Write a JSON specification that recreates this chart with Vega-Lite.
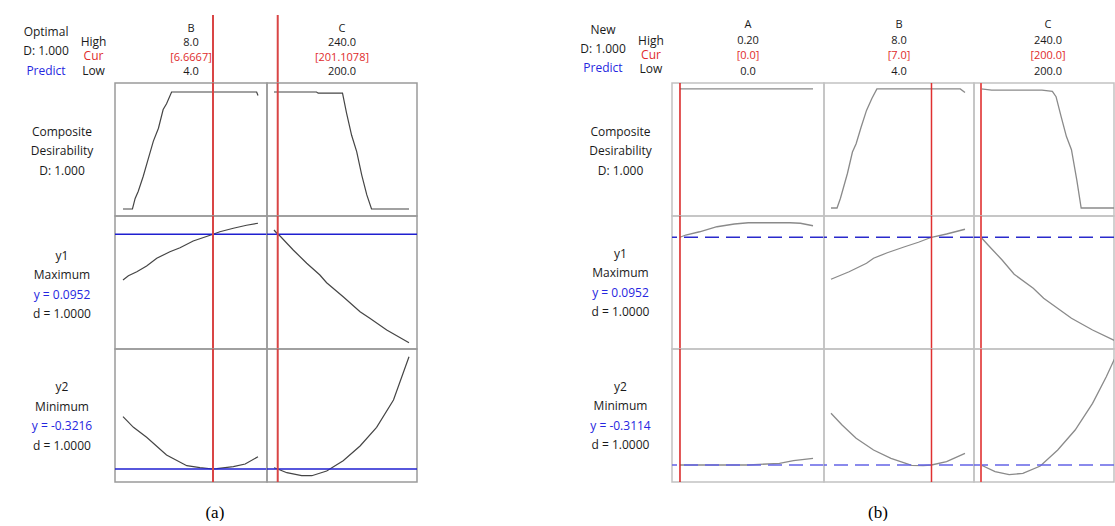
{
"$schema": "https://vega.github.io/schema/vega-lite/v6.json",
"padding": {"left": 12, "top": 15, "right": 0, "bottom": 0},
"background": "white",
"config": {"view": {"stroke": null}, "font": "Open Sans", "text": {"font": "Open Sans"}},
"datasets": {
"curves": [
{"plot":"a","row":"D","factor":"B","x":4.0,"y":0},{"plot":"a","row":"D","factor":"B","x":4.28,"y":0},{"plot":"a","row":"D","factor":"B","x":4.36,"y":0.09},{"plot":"a","row":"D","factor":"B","x":4.45,"y":0.15},{"plot":"a","row":"D","factor":"B","x":4.6,"y":0.28},{"plot":"a","row":"D","factor":"B","x":4.75,"y":0.43},{"plot":"a","row":"D","factor":"B","x":4.9,"y":0.58},{"plot":"a","row":"D","factor":"B","x":5.05,"y":0.69},{"plot":"a","row":"D","factor":"B","x":5.19,"y":0.85},{"plot":"a","row":"D","factor":"B","x":5.29,"y":0.9},{"plot":"a","row":"D","factor":"B","x":5.44,"y":1.0},{"plot":"a","row":"D","factor":"B","x":7.96,"y":1.0},{"plot":"a","row":"D","factor":"B","x":8.0,"y":0.97},
{"plot":"a","row":"D","factor":"C","x":200,"y":1.0},{"plot":"a","row":"D","factor":"C","x":212.6,"y":1.0},{"plot":"a","row":"D","factor":"C","x":213.1,"y":0.99},{"plot":"a","row":"D","factor":"C","x":220.3,"y":0.99},{"plot":"a","row":"D","factor":"C","x":221.5,"y":0.82},{"plot":"a","row":"D","factor":"C","x":223.0,"y":0.63},{"plot":"a","row":"D","factor":"C","x":224.5,"y":0.49},{"plot":"a","row":"D","factor":"C","x":226.0,"y":0.29},{"plot":"a","row":"D","factor":"C","x":227.5,"y":0.12},{"plot":"a","row":"D","factor":"C","x":228.9,"y":0},{"plot":"a","row":"D","factor":"C","x":240,"y":0},
{"plot":"a","row":"y1","factor":"B","x":4.0,"y":0.0769},{"plot":"a","row":"y1","factor":"B","x":4.16,"y":0.0786},{"plot":"a","row":"y1","factor":"B","x":4.41,"y":0.0802},{"plot":"a","row":"y1","factor":"B","x":4.7,"y":0.0825},{"plot":"a","row":"y1","factor":"B","x":5.0,"y":0.0856},{"plot":"a","row":"y1","factor":"B","x":5.39,"y":0.0882},{"plot":"a","row":"y1","factor":"B","x":5.69,"y":0.0898},{"plot":"a","row":"y1","factor":"B","x":6.08,"y":0.0925},{"plot":"a","row":"y1","factor":"B","x":6.67,"y":0.0952},{"plot":"a","row":"y1","factor":"B","x":6.87,"y":0.0962},{"plot":"a","row":"y1","factor":"B","x":7.27,"y":0.0976},{"plot":"a","row":"y1","factor":"B","x":7.66,"y":0.0988},{"plot":"a","row":"y1","factor":"B","x":8.0,"y":0.0996},
{"plot":"a","row":"y1","factor":"C","x":200,"y":0.0969},{"plot":"a","row":"y1","factor":"C","x":201.11,"y":0.0952},{"plot":"a","row":"y1","factor":"C","x":201.8,"y":0.0945},{"plot":"a","row":"y1","factor":"C","x":205.7,"y":0.0889},{"plot":"a","row":"y1","factor":"C","x":209.7,"y":0.0836},{"plot":"a","row":"y1","factor":"C","x":213.6,"y":0.0789},{"plot":"a","row":"y1","factor":"C","x":215.6,"y":0.0758},{"plot":"a","row":"y1","factor":"C","x":220.5,"y":0.0702},{"plot":"a","row":"y1","factor":"C","x":225.5,"y":0.0642},{"plot":"a","row":"y1","factor":"C","x":228.4,"y":0.0616},{"plot":"a","row":"y1","factor":"C","x":233.4,"y":0.0569},{"plot":"a","row":"y1","factor":"C","x":240,"y":0.0518},
{"plot":"a","row":"y2","factor":"B","x":4.0,"y":-0.1647},{"plot":"a","row":"y2","factor":"B","x":4.31,"y":-0.1965},{"plot":"a","row":"y2","factor":"B","x":4.7,"y":-0.2265},{"plot":"a","row":"y2","factor":"B","x":5.29,"y":-0.2796},{"plot":"a","row":"y2","factor":"B","x":5.89,"y":-0.3117},{"plot":"a","row":"y2","factor":"B","x":6.28,"y":-0.3177},{"plot":"a","row":"y2","factor":"B","x":6.67,"y":-0.3216},{"plot":"a","row":"y2","factor":"B","x":6.78,"y":-0.3207},{"plot":"a","row":"y2","factor":"B","x":7.27,"y":-0.3147},{"plot":"a","row":"y2","factor":"B","x":7.62,"y":-0.3066},{"plot":"a","row":"y2","factor":"B","x":8.0,"y":-0.2847},
{"plot":"a","row":"y2","factor":"C","x":200,"y":-0.3177},{"plot":"a","row":"y2","factor":"C","x":201.11,"y":-0.3216},{"plot":"a","row":"y2","factor":"C","x":203.8,"y":-0.3327},{"plot":"a","row":"y2","factor":"C","x":208.2,"y":-0.3417},{"plot":"a","row":"y2","factor":"C","x":211.2,"y":-0.3417},{"plot":"a","row":"y2","factor":"C","x":215.6,"y":-0.3276},{"plot":"a","row":"y2","factor":"C","x":220.5,"y":-0.2967},{"plot":"a","row":"y2","factor":"C","x":225.5,"y":-0.2526},{"plot":"a","row":"y2","factor":"C","x":230.4,"y":-0.1965},{"plot":"a","row":"y2","factor":"C","x":235.4,"y":-0.1146},{"plot":"a","row":"y2","factor":"C","x":240,"y":0.0153},
{"plot":"b","row":"D","factor":"A","x":0,"y":1.0},{"plot":"b","row":"D","factor":"A","x":0.2,"y":1.0},
{"plot":"b","row":"D","factor":"B","x":4.0,"y":0},{"plot":"b","row":"D","factor":"B","x":4.18,"y":0},{"plot":"b","row":"D","factor":"B","x":4.28,"y":0.08},{"plot":"b","row":"D","factor":"B","x":4.49,"y":0.29},{"plot":"b","row":"D","factor":"B","x":4.64,"y":0.47},{"plot":"b","row":"D","factor":"B","x":4.75,"y":0.54},{"plot":"b","row":"D","factor":"B","x":4.9,"y":0.68},{"plot":"b","row":"D","factor":"B","x":5.06,"y":0.82},{"plot":"b","row":"D","factor":"B","x":5.22,"y":0.92},{"plot":"b","row":"D","factor":"B","x":5.37,"y":1.0},{"plot":"b","row":"D","factor":"B","x":7.86,"y":1.0},{"plot":"b","row":"D","factor":"B","x":8.0,"y":0.97},
{"plot":"b","row":"D","factor":"C","x":200,"y":1.0},{"plot":"b","row":"D","factor":"C","x":203.2,"y":0.99},{"plot":"b","row":"D","factor":"C","x":218.2,"y":0.99},{"plot":"b","row":"D","factor":"C","x":221.3,"y":0.98},{"plot":"b","row":"D","factor":"C","x":222.4,"y":0.935},{"plot":"b","row":"D","factor":"C","x":223.9,"y":0.77},{"plot":"b","row":"D","factor":"C","x":225.5,"y":0.6},{"plot":"b","row":"D","factor":"C","x":227.0,"y":0.49},{"plot":"b","row":"D","factor":"C","x":228.6,"y":0.235},{"plot":"b","row":"D","factor":"C","x":229.9,"y":0},{"plot":"b","row":"D","factor":"C","x":240,"y":0},
{"plot":"b","row":"y1","factor":"A","x":0,"y":0.0952},{"plot":"b","row":"y1","factor":"A","x":0.0086,"y":0.0961},{"plot":"b","row":"y1","factor":"A","x":0.0295,"y":0.0974},{"plot":"b","row":"y1","factor":"A","x":0.0556,"y":0.0994},{"plot":"b","row":"y1","factor":"A","x":0.0818,"y":0.1005},{"plot":"b","row":"y1","factor":"A","x":0.1027,"y":0.101},{"plot":"b","row":"y1","factor":"A","x":0.1654,"y":0.101},{"plot":"b","row":"y1","factor":"A","x":0.181,"y":0.1008},{"plot":"b","row":"y1","factor":"A","x":0.2,"y":0.0998},
{"plot":"b","row":"y1","factor":"B","x":4.0,"y":0.0784},{"plot":"b","row":"y1","factor":"B","x":4.54,"y":0.0814},{"plot":"b","row":"y1","factor":"B","x":5.06,"y":0.0848},{"plot":"b","row":"y1","factor":"B","x":5.27,"y":0.0868},{"plot":"b","row":"y1","factor":"B","x":5.68,"y":0.089},{"plot":"b","row":"y1","factor":"B","x":6.2,"y":0.0914},{"plot":"b","row":"y1","factor":"B","x":6.61,"y":0.0932},{"plot":"b","row":"y1","factor":"B","x":7.0,"y":0.0952},{"plot":"b","row":"y1","factor":"B","x":7.45,"y":0.0965},{"plot":"b","row":"y1","factor":"B","x":8.0,"y":0.0984},
{"plot":"b","row":"y1","factor":"C","x":200,"y":0.0952},{"plot":"b","row":"y1","factor":"C","x":202.1,"y":0.0921},{"plot":"b","row":"y1","factor":"C","x":206.3,"y":0.0861},{"plot":"b","row":"y1","factor":"C","x":209.9,"y":0.0804},{"plot":"b","row":"y1","factor":"C","x":215.6,"y":0.0748},{"plot":"b","row":"y1","factor":"C","x":218.7,"y":0.0708},{"plot":"b","row":"y1","factor":"C","x":227.0,"y":0.0628},{"plot":"b","row":"y1","factor":"C","x":233.3,"y":0.0581},{"plot":"b","row":"y1","factor":"C","x":240,"y":0.0538},
{"plot":"b","row":"y2","factor":"A","x":0,"y":-0.3114},{"plot":"b","row":"y2","factor":"A","x":0.1027,"y":-0.3114},{"plot":"b","row":"y2","factor":"A","x":0.1496,"y":-0.3063},{"plot":"b","row":"y2","factor":"A","x":0.1706,"y":-0.2985},{"plot":"b","row":"y2","factor":"A","x":0.2,"y":-0.2913},
{"plot":"b","row":"y2","factor":"B","x":4.0,"y":-0.1563},{"plot":"b","row":"y2","factor":"B","x":4.33,"y":-0.1914},{"plot":"b","row":"y2","factor":"B","x":4.75,"y":-0.2313},{"plot":"b","row":"y2","factor":"B","x":5.27,"y":-0.2664},{"plot":"b","row":"y2","factor":"B","x":5.79,"y":-0.2913},{"plot":"b","row":"y2","factor":"B","x":6.41,"y":-0.3125},{"plot":"b","row":"y2","factor":"B","x":6.75,"y":-0.3135},{"plot":"b","row":"y2","factor":"B","x":7.0,"y":-0.3114},{"plot":"b","row":"y2","factor":"B","x":7.45,"y":-0.3015},{"plot":"b","row":"y2","factor":"B","x":8.0,"y":-0.2763},
{"plot":"b","row":"y2","factor":"C","x":200,"y":-0.3114},{"plot":"b","row":"y2","factor":"C","x":204.2,"y":-0.3315},{"plot":"b","row":"y2","factor":"C","x":208.4,"y":-0.3405},{"plot":"b","row":"y2","factor":"C","x":212.5,"y":-0.3363},{"plot":"b","row":"y2","factor":"C","x":217.7,"y":-0.3144},{"plot":"b","row":"y2","factor":"C","x":222.9,"y":-0.2664},{"plot":"b","row":"y2","factor":"C","x":228.1,"y":-0.2064},{"plot":"b","row":"y2","factor":"C","x":233.3,"y":-0.1263},{"plot":"b","row":"y2","factor":"C","x":237.4,"y":-0.0465},{"plot":"b","row":"y2","factor":"C","x":240,"y":0.01}
],
"settings": [{"plot":"a","factor":"B","level":6.6667},{"plot":"a","factor":"C","level":201.1078},{"plot":"b","factor":"A","level":0.0},{"plot":"b","factor":"B","level":7.0},{"plot":"b","factor":"C","level":200.0}],
"predicted": [{"plot":"a","row":"y1","value":0.0952},{"plot":"a","row":"y2","value":-0.3216},{"plot":"b","row":"y1","value":0.0952},{"plot":"b","row":"y2","value":-0.3114}],
"fhead": [
{"plot":"a","factor":"B","slot":"name","text":"B"},{"plot":"a","factor":"B","slot":"high","text":"8.0"},{"plot":"a","factor":"B","slot":"cur","text":"[6.6667]"},{"plot":"a","factor":"B","slot":"low","text":"4.0"},
{"plot":"a","factor":"C","slot":"name","text":"C"},{"plot":"a","factor":"C","slot":"high","text":"240.0"},{"plot":"a","factor":"C","slot":"cur","text":"[201.1078]"},{"plot":"a","factor":"C","slot":"low","text":"200.0"},
{"plot":"b","factor":"A","slot":"name","text":"A"},{"plot":"b","factor":"A","slot":"high","text":"0.20"},{"plot":"b","factor":"A","slot":"cur","text":"[0.0]"},{"plot":"b","factor":"A","slot":"low","text":"0.0"},
{"plot":"b","factor":"B","slot":"name","text":"B"},{"plot":"b","factor":"B","slot":"high","text":"8.0"},{"plot":"b","factor":"B","slot":"cur","text":"[7.0]"},{"plot":"b","factor":"B","slot":"low","text":"4.0"},
{"plot":"b","factor":"C","slot":"name","text":"C"},{"plot":"b","factor":"C","slot":"high","text":"240.0"},{"plot":"b","factor":"C","slot":"cur","text":"[200.0]"},{"plot":"b","factor":"C","slot":"low","text":"200.0"}
],
"lhead": [
{"plot":"a","block":"status","slot":"title","text":"Optimal"},{"plot":"a","block":"status","slot":"d","text":"D: 1.000"},{"plot":"a","block":"status","slot":"predict","text":"Predict"},
{"plot":"a","block":"level","slot":"high","text":"High"},{"plot":"a","block":"level","slot":"cur","text":"Cur"},{"plot":"a","block":"level","slot":"low","text":"Low"},
{"plot":"b","block":"status","slot":"title","text":"New"},{"plot":"b","block":"status","slot":"d","text":"D: 1.000"},{"plot":"b","block":"status","slot":"predict","text":"Predict"},
{"plot":"b","block":"level","slot":"high","text":"High"},{"plot":"b","block":"level","slot":"cur","text":"Cur"},{"plot":"b","block":"level","slot":"low","text":"Low"}
],
"rowlabels": [
{"plot":"a","row":"D","slot":"c1","text":"Composite"},{"plot":"a","row":"D","slot":"c2","text":"Desirability"},{"plot":"a","row":"D","slot":"c3","text":"D: 1.000"},
{"plot":"a","row":"y1","slot":"name","text":"y1"},{"plot":"a","row":"y1","slot":"goal","text":"Maximum"},{"plot":"a","row":"y1","slot":"pred","text":"y = 0.0952"},{"plot":"a","row":"y1","slot":"desir","text":"d = 1.0000"},
{"plot":"a","row":"y2","slot":"name","text":"y2"},{"plot":"a","row":"y2","slot":"goal","text":"Minimum"},{"plot":"a","row":"y2","slot":"pred","text":"y = -0.3216"},{"plot":"a","row":"y2","slot":"desir","text":"d = 1.0000"},
{"plot":"b","row":"D","slot":"c1","text":"Composite"},{"plot":"b","row":"D","slot":"c2","text":"Desirability"},{"plot":"b","row":"D","slot":"c3","text":"D: 1.000"},
{"plot":"b","row":"y1","slot":"name","text":"y1"},{"plot":"b","row":"y1","slot":"goal","text":"Maximum"},{"plot":"b","row":"y1","slot":"pred","text":"y = 0.0952"},{"plot":"b","row":"y1","slot":"desir","text":"d = 1.0000"},
{"plot":"b","row":"y2","slot":"name","text":"y2"},{"plot":"b","row":"y2","slot":"goal","text":"Minimum"},{"plot":"b","row":"y2","slot":"pred","text":"y = -0.3114"},{"plot":"b","row":"y2","slot":"desir","text":"d = 1.0000"}
]
},
"spacing": 155,
"hconcat": [
{
"title": {"text": "(a)", "orient": "bottom", "font": "Liberation Serif", "fontSize": 17, "fontWeight": "normal", "color": "#000000", "offset": 22, "baseline": "top", "anchor": "middle"},
"columns": 3, "spacing": 0, "bounds": "flush",
"concat": [
 {"width": 103, "height": 68, "view": {"stroke": null},
  "resolve": {"scale": {"y": "independent"}},
  "layer": [
   {"data": {"name": "lhead"}, "transform": [{"filter": "datum.plot=='a' && datum.block=='status'"}],
    "mark": {"type": "text", "fontSize": 12, "baseline": "middle"},
    "encoding": {"x": {"field": "block", "type": "nominal", "scale": {"type": "point", "domain": ["status","level"], "padding": 0.584, "align": 0.613}, "axis": null},
     "y": {"field": "slot", "type": "ordinal", "scale": {"type": "point", "domain": ["title","d","predict"], "padding": 0.744, "align": 0.586}, "axis": null},
     "text": {"field": "text", "type": "nominal"},
     "color": {"field": "slot", "type": "nominal", "legend": null, "scale": {"domain": ["title","d","predict","high","cur","low"], "range": ["#1a1a1a","#1a1a1a","#2626e0","#1a1a1a","#e02b2b","#1a1a1a"]}}}},
   {"data": {"name": "lhead"}, "transform": [{"filter": "datum.plot=='a' && datum.block=='level'"}],
    "mark": {"type": "text", "fontSize": 12, "baseline": "middle"},
    "encoding": {"x": {"field": "block", "type": "nominal", "axis": null},
     "y": {"field": "slot", "type": "ordinal", "scale": {"type": "point", "domain": ["pad0","high","cur","low"], "padding": 0.845, "align": 0.51}, "axis": null},
     "text": {"field": "text", "type": "nominal"},
     "color": {"field": "slot", "type": "nominal", "legend": null}}}
  ]},
 {"width": 152, "height": 68, "view": {"stroke": null}, "layer": [
   {"data": {"name": "fhead"}, "transform": [{"filter": "datum.plot=='a' && datum.factor=='B'"}], "mark": {"type": "text", "fontSize": 11, "baseline": "middle"},
    "encoding": {"y": {"field": "slot", "type": "ordinal", "scale": {"type": "point", "domain": ["name","high","cur","low"], "padding": 0.872, "align": 0.56}, "axis": null}, "text": {"field": "text", "type": "nominal"},
     "color": {"field": "slot", "type": "nominal", "legend": null, "scale": {"domain": ["name","high","cur","low"], "range": ["#1a1a1a","#1a1a1a","#e02b2b","#1a1a1a"]}}}},
   {"data": {"name": "settings"}, "transform": [{"filter": "datum.plot=='a' && datum.factor=='B'"}], "mark": {"type": "rule", "color": "#d94545", "strokeWidth": 2, "clip": true},
    "encoding": {"x": {"field": "level", "type": "quantitative", "scale": {"domain": [3.763, 8.267], "nice": false, "zero": false}, "axis": null}}}
 ]},
 {"width": 150, "height": 68, "view": {"stroke": null}, "layer": [
   {"data": {"name": "fhead"}, "transform": [{"filter": "datum.plot=='a' && datum.factor=='C'"}], "mark": {"type": "text", "fontSize": 11, "baseline": "middle"},
    "encoding": {"y": {"field": "slot", "type": "ordinal", "scale": {"type": "point", "domain": ["name","high","cur","low"], "padding": 0.872, "align": 0.56}, "axis": null}, "text": {"field": "text", "type": "nominal"},
     "color": {"field": "slot", "type": "nominal", "legend": null, "scale": {"domain": ["name","high","cur","low"], "range": ["#1a1a1a","#1a1a1a","#e02b2b","#1a1a1a"]}}}},
   {"data": {"name": "settings"}, "transform": [{"filter": "datum.plot=='a' && datum.factor=='C'"}], "mark": {"type": "rule", "color": "#d94545", "strokeWidth": 2, "clip": true},
    "encoding": {"x": {"field": "level", "type": "quantitative", "scale": {"domain": [197.93, 242.37], "nice": false, "zero": false}, "axis": null}}}
 ]},
 {"width": 103, "height": 133, "view": {"stroke": null}, "data": {"name": "rowlabels"}, "transform": [{"filter": "datum.plot=='a' && datum.row=='D'"}],
  "mark": {"type": "text", "fontSize": 12, "baseline": "middle", "color": "#1a1a1a", "dx": -1.5},
  "encoding": {"y": {"field": "slot", "type": "ordinal", "scale": {"type": "point", "domain": ["p1","p2","c1","c2","c3","p3","p4"], "padding": 0.41, "align": 0.625}, "axis": null}, "text": {"field": "text", "type": "nominal"}}},
 {"width": 152, "height": 133, "view": {"stroke": "#9b9b9b", "strokeWidth": 1.5}, "layer": [
   {"data": {"name": "curves"}, "transform": [{"filter": "datum.plot=='a' && datum.row=='D' && datum.factor=='B'"}], "mark": {"type": "line", "color": "#454545", "strokeWidth": 1.2, "clip": true},
    "encoding": {"x": {"field": "x", "type": "quantitative", "scale": {"domain": [3.763, 8.267], "nice": false, "zero": false}, "axis": null}, "y": {"field": "y", "type": "quantitative", "scale": {"domain": [-0.06, 1.077], "nice": false, "zero": false}, "axis": null}}},
   {"data": {"name": "settings"}, "transform": [{"filter": "datum.plot=='a' && datum.factor=='B'"}], "mark": {"type": "rule", "color": "#d94545", "strokeWidth": 2, "clip": true}, "encoding": {"x": {"field": "level", "type": "quantitative", "axis": null}}}
 ]},
 {"width": 150, "height": 133, "view": {"stroke": "#9b9b9b", "strokeWidth": 1.5}, "layer": [
   {"data": {"name": "curves"}, "transform": [{"filter": "datum.plot=='a' && datum.row=='D' && datum.factor=='C'"}], "mark": {"type": "line", "color": "#454545", "strokeWidth": 1.2, "clip": true},
    "encoding": {"x": {"field": "x", "type": "quantitative", "scale": {"domain": [197.93, 242.37], "nice": false, "zero": false}, "axis": null}, "y": {"field": "y", "type": "quantitative", "scale": {"domain": [-0.06, 1.077], "nice": false, "zero": false}, "axis": null}}},
   {"data": {"name": "settings"}, "transform": [{"filter": "datum.plot=='a' && datum.factor=='C'"}], "mark": {"type": "rule", "color": "#d94545", "strokeWidth": 2, "clip": true}, "encoding": {"x": {"field": "level", "type": "quantitative", "axis": null}}}
 ]},
 {"width": 103, "height": 133, "view": {"stroke": null}, "data": {"name": "rowlabels"}, "transform": [{"filter": "datum.plot=='a' && datum.row=='y1'"}],
  "mark": {"type": "text", "fontSize": 12, "baseline": "middle", "dx": -1.5},
  "encoding": {"y": {"field": "slot", "type": "ordinal", "scale": {"type": "point", "domain": ["p1","name","goal","pred","desir","p2"], "padding": 0.94, "align": 0.57}, "axis": null}, "text": {"field": "text", "type": "nominal"},
   "color": {"field": "slot", "type": "nominal", "legend": null, "scale": {"domain": ["name","goal","pred","desir"], "range": ["#1a1a1a","#1a1a1a","#3434ee","#1a1a1a"]}}}},
 {"width": 152, "height": 133, "view": {"stroke": "#9b9b9b", "strokeWidth": 1.5}, "layer": [
   {"data": {"name": "curves"}, "transform": [{"filter": "datum.plot=='a' && datum.row=='y1' && datum.factor=='B'"}], "mark": {"type": "line", "color": "#454545", "strokeWidth": 1.2, "clip": true},
    "encoding": {"x": {"field": "x", "type": "quantitative", "scale": {"domain": [3.763, 8.267], "nice": false, "zero": false}, "axis": null}, "y": {"field": "y", "type": "quantitative", "scale": {"domain": [0.0493, 0.1025], "nice": false, "zero": false}, "axis": null}}},
   {"data": {"name": "predicted"}, "transform": [{"filter": "datum.plot=='a' && datum.row=='y1'"}], "mark": {"type": "rule", "color": "#1f1fd0", "strokeWidth": 1.5, "clip": true}, "encoding": {"y": {"field": "value", "type": "quantitative", "axis": null}}},
   {"data": {"name": "settings"}, "transform": [{"filter": "datum.plot=='a' && datum.factor=='B'"}], "mark": {"type": "rule", "color": "#d94545", "strokeWidth": 2, "clip": true}, "encoding": {"x": {"field": "level", "type": "quantitative", "axis": null}}}
 ]},
 {"width": 150, "height": 133, "view": {"stroke": "#9b9b9b", "strokeWidth": 1.5}, "layer": [
   {"data": {"name": "curves"}, "transform": [{"filter": "datum.plot=='a' && datum.row=='y1' && datum.factor=='C'"}], "mark": {"type": "line", "color": "#454545", "strokeWidth": 1.2, "clip": true},
    "encoding": {"x": {"field": "x", "type": "quantitative", "scale": {"domain": [197.93, 242.37], "nice": false, "zero": false}, "axis": null}, "y": {"field": "y", "type": "quantitative", "scale": {"domain": [0.0493, 0.1025], "nice": false, "zero": false}, "axis": null}}},
   {"data": {"name": "predicted"}, "transform": [{"filter": "datum.plot=='a' && datum.row=='y1'"}], "mark": {"type": "rule", "color": "#1f1fd0", "strokeWidth": 1.5, "clip": true}, "encoding": {"y": {"field": "value", "type": "quantitative", "axis": null}}},
   {"data": {"name": "settings"}, "transform": [{"filter": "datum.plot=='a' && datum.factor=='C'"}], "mark": {"type": "rule", "color": "#d94545", "strokeWidth": 2, "clip": true}, "encoding": {"x": {"field": "level", "type": "quantitative", "axis": null}}}
 ]},
 {"width": 103, "height": 133, "view": {"stroke": null}, "data": {"name": "rowlabels"}, "transform": [{"filter": "datum.plot=='a' && datum.row=='y2'"}],
  "mark": {"type": "text", "fontSize": 12, "baseline": "middle", "dx": -1.5},
  "encoding": {"y": {"field": "slot", "type": "ordinal", "scale": {"type": "point", "domain": ["p1","name","goal","pred","desir","p2"], "padding": 0.88, "align": 0.53}, "axis": null}, "text": {"field": "text", "type": "nominal"},
   "color": {"field": "slot", "type": "nominal", "legend": null, "scale": {"domain": ["name","goal","pred","desir"], "range": ["#1a1a1a","#1a1a1a","#3434ee","#1a1a1a"]}}}},
 {"width": 152, "height": 133, "view": {"stroke": "#9b9b9b", "strokeWidth": 1.5}, "layer": [
   {"data": {"name": "curves"}, "transform": [{"filter": "datum.plot=='a' && datum.row=='y2' && datum.factor=='B'"}], "mark": {"type": "line", "color": "#454545", "strokeWidth": 1.2, "clip": true},
    "encoding": {"x": {"field": "x", "type": "quantitative", "scale": {"domain": [3.763, 8.267], "nice": false, "zero": false}, "axis": null}, "y": {"field": "y", "type": "quantitative", "scale": {"domain": [-0.3606, 0.0384], "nice": false, "zero": false}, "axis": null}}},
   {"data": {"name": "predicted"}, "transform": [{"filter": "datum.plot=='a' && datum.row=='y2'"}], "mark": {"type": "rule", "color": "#1f1fd0", "strokeWidth": 1.5, "clip": true}, "encoding": {"y": {"field": "value", "type": "quantitative", "axis": null}}},
   {"data": {"name": "settings"}, "transform": [{"filter": "datum.plot=='a' && datum.factor=='B'"}], "mark": {"type": "rule", "color": "#d94545", "strokeWidth": 2, "clip": true}, "encoding": {"x": {"field": "level", "type": "quantitative", "axis": null}}}
 ]},
 {"width": 150, "height": 133, "view": {"stroke": "#9b9b9b", "strokeWidth": 1.5}, "layer": [
   {"data": {"name": "curves"}, "transform": [{"filter": "datum.plot=='a' && datum.row=='y2' && datum.factor=='C'"}], "mark": {"type": "line", "color": "#454545", "strokeWidth": 1.2, "clip": true},
    "encoding": {"x": {"field": "x", "type": "quantitative", "scale": {"domain": [197.93, 242.37], "nice": false, "zero": false}, "axis": null}, "y": {"field": "y", "type": "quantitative", "scale": {"domain": [-0.3606, 0.0384], "nice": false, "zero": false}, "axis": null}}},
   {"data": {"name": "predicted"}, "transform": [{"filter": "datum.plot=='a' && datum.row=='y2'"}], "mark": {"type": "rule", "color": "#1f1fd0", "strokeWidth": 1.5, "clip": true}, "encoding": {"y": {"field": "value", "type": "quantitative", "axis": null}}},
   {"data": {"name": "settings"}, "transform": [{"filter": "datum.plot=='a' && datum.factor=='C'"}], "mark": {"type": "rule", "color": "#d94545", "strokeWidth": 2, "clip": true}, "encoding": {"x": {"field": "level", "type": "quantitative", "axis": null}}}
 ]}
]
},
{
"title": {"text": "(b)", "orient": "bottom", "font": "Liberation Serif", "fontSize": 17, "fontWeight": "normal", "color": "#000000", "offset": 22, "baseline": "top", "anchor": "middle", "dx": 34},
"columns": 4, "spacing": 0, "bounds": "flush",
"concat": [
 {"width": 99, "height": 68, "view": {"stroke": null},
  "resolve": {"scale": {"y": "independent"}},
  "layer": [
   {"data": {"name": "lhead"}, "transform": [{"filter": "datum.plot=='b' && datum.block=='status'"}],
    "mark": {"type": "text", "fontSize": 12, "baseline": "middle"},
    "encoding": {"x": {"field": "block", "type": "nominal", "scale": {"type": "point", "domain": ["status","level"], "padding": 0.531, "align": 0.588}, "axis": null},
     "y": {"field": "slot", "type": "ordinal", "scale": {"type": "point", "domain": ["title","d","predict"], "padding": 0.79, "align": 0.5}, "axis": null},
     "text": {"field": "text", "type": "nominal"},
     "color": {"field": "slot", "type": "nominal", "legend": null, "scale": {"domain": ["title","d","predict","high","cur","low"], "range": ["#1a1a1a","#1a1a1a","#2626e0","#1a1a1a","#e02b2b","#1a1a1a"]}}}},
   {"data": {"name": "lhead"}, "transform": [{"filter": "datum.plot=='b' && datum.block=='level'"}],
    "mark": {"type": "text", "fontSize": 12, "baseline": "middle"},
    "encoding": {"x": {"field": "block", "type": "nominal", "axis": null},
     "y": {"field": "slot", "type": "ordinal", "scale": {"type": "point", "domain": ["pad0","high","cur","low"], "padding": 0.93, "align": 0.46}, "axis": null},
     "text": {"field": "text", "type": "nominal"},
     "color": {"field": "slot", "type": "nominal", "legend": null}}}
  ]},
 {"width": 152, "height": 68, "view": {"stroke": null}, "data": {"name": "fhead"}, "transform": [{"filter": "datum.plot=='b' && datum.factor=='A'"}], "mark": {"type": "text", "fontSize": 11, "baseline": "middle"},
  "encoding": {"y": {"field": "slot", "type": "ordinal", "scale": {"type": "point", "domain": ["name","high","cur","low"], "padding": 0.67, "align": 0.476}, "axis": null}, "text": {"field": "text", "type": "nominal"},
   "color": {"field": "slot", "type": "nominal", "legend": null, "scale": {"domain": ["name","high","cur","low"], "range": ["#1a1a1a","#1a1a1a","#e24a4a","#1a1a1a"]}}}},
 {"width": 150, "height": 68, "view": {"stroke": null}, "data": {"name": "fhead"}, "transform": [{"filter": "datum.plot=='b' && datum.factor=='B'"}], "mark": {"type": "text", "fontSize": 11, "baseline": "middle"},
  "encoding": {"y": {"field": "slot", "type": "ordinal", "scale": {"type": "point", "domain": ["name","high","cur","low"], "padding": 0.67, "align": 0.476}, "axis": null}, "text": {"field": "text", "type": "nominal"},
   "color": {"field": "slot", "type": "nominal", "legend": null, "scale": {"domain": ["name","high","cur","low"], "range": ["#1a1a1a","#1a1a1a","#e24a4a","#1a1a1a"]}}}},
 {"width": 140, "height": 68, "view": {"stroke": null}, "data": {"name": "fhead"}, "transform": [{"filter": "datum.plot=='b' && datum.factor=='C'"}], "mark": {"type": "text", "fontSize": 11, "baseline": "middle", "dx": 4},
  "encoding": {"y": {"field": "slot", "type": "ordinal", "scale": {"type": "point", "domain": ["name","high","cur","low"], "padding": 0.67, "align": 0.476}, "axis": null}, "text": {"field": "text", "type": "nominal"},
   "color": {"field": "slot", "type": "nominal", "legend": null, "scale": {"domain": ["name","high","cur","low"], "range": ["#1a1a1a","#1a1a1a","#e24a4a","#1a1a1a"]}}}},
 {"width": 99, "height": 133, "view": {"stroke": null}, "data": {"name": "rowlabels"}, "transform": [{"filter": "datum.plot=='b' && datum.row=='D'"}],
  "mark": {"type": "text", "fontSize": 12, "baseline": "middle", "color": "#1a1a1a", "dx": -2},
  "encoding": {"y": {"field": "slot", "type": "ordinal", "scale": {"type": "point", "domain": ["p1","p2","c1","c2","c3","p3","p4"], "padding": 0.41, "align": 0.6}, "axis": null}, "text": {"field": "text", "type": "nominal"}}},
 {"width": 152, "height": 133, "view": {"stroke": "#c2c2c2", "strokeWidth": 1.5}, "layer": [
   {"data": {"name": "curves"}, "transform": [{"filter": "datum.plot=='b' && datum.row=='D' && datum.factor=='A'"}], "mark": {"type": "line", "color": "#8a8a8a", "strokeWidth": 1.3, "clip": true},
    "encoding": {"x": {"field": "x", "type": "quantitative", "scale": {"domain": [-0.012, 0.2165], "nice": false, "zero": false}, "axis": null}, "y": {"field": "y", "type": "quantitative", "scale": {"domain": [-0.067, 1.05], "nice": false, "zero": false}, "axis": null}}},
   {"data": {"name": "settings"}, "transform": [{"filter": "datum.plot=='b' && datum.factor=='A'"}], "mark": {"type": "rule", "color": "#d81e1e", "strokeWidth": 1.5, "clip": true}, "encoding": {"x": {"field": "level", "type": "quantitative", "axis": null}}}
 ]},
 {"width": 150, "height": 133, "view": {"stroke": "#c2c2c2", "strokeWidth": 1.5}, "layer": [
   {"data": {"name": "curves"}, "transform": [{"filter": "datum.plot=='b' && datum.row=='D' && datum.factor=='B'"}], "mark": {"type": "line", "color": "#8a8a8a", "strokeWidth": 1.3, "clip": true},
    "encoding": {"x": {"field": "x", "type": "quantitative", "scale": {"domain": [3.791, 8.269], "nice": false, "zero": false}, "axis": null}, "y": {"field": "y", "type": "quantitative", "scale": {"domain": [-0.067, 1.05], "nice": false, "zero": false}, "axis": null}}},
   {"data": {"name": "settings"}, "transform": [{"filter": "datum.plot=='b' && datum.factor=='B'"}], "mark": {"type": "rule", "color": "#e03030", "strokeWidth": 1.5, "clip": true}, "encoding": {"x": {"field": "level", "type": "quantitative", "axis": null}}}
 ]},
 {"width": 140, "height": 133, "view": {"stroke": "#c2c2c2", "strokeWidth": 1.5}, "layer": [
   {"data": {"name": "curves"}, "transform": [{"filter": "datum.plot=='b' && datum.row=='D' && datum.factor=='C'"}], "mark": {"type": "line", "color": "#8a8a8a", "strokeWidth": 1.3, "clip": true},
    "encoding": {"x": {"field": "x", "type": "quantitative", "scale": {"domain": [197.91, 239.7], "nice": false, "zero": false}, "axis": null}, "y": {"field": "y", "type": "quantitative", "scale": {"domain": [-0.067, 1.05], "nice": false, "zero": false}, "axis": null}}},
   {"data": {"name": "settings"}, "transform": [{"filter": "datum.plot=='b' && datum.factor=='C'"}], "mark": {"type": "rule", "color": "#e65a5a", "strokeWidth": 2, "clip": true}, "encoding": {"x": {"field": "level", "type": "quantitative", "axis": null}}}
 ]},
 {"width": 99, "height": 133, "view": {"stroke": null}, "data": {"name": "rowlabels"}, "transform": [{"filter": "datum.plot=='b' && datum.row=='y1'"}],
  "mark": {"type": "text", "fontSize": 12, "baseline": "middle", "dx": -2},
  "encoding": {"y": {"field": "slot", "type": "ordinal", "scale": {"type": "point", "domain": ["p1","name","goal","pred","desir","p2"], "padding": 0.94, "align": 0.514}, "axis": null}, "text": {"field": "text", "type": "nominal"},
   "color": {"field": "slot", "type": "nominal", "legend": null, "scale": {"domain": ["name","goal","pred","desir"], "range": ["#1a1a1a","#1a1a1a","#3434ee","#1a1a1a"]}}}},
 {"width": 152, "height": 133, "view": {"stroke": "#c2c2c2", "strokeWidth": 1.5}, "layer": [
   {"data": {"name": "curves"}, "transform": [{"filter": "datum.plot=='b' && datum.row=='y1' && datum.factor=='A'"}], "mark": {"type": "line", "color": "#8a8a8a", "strokeWidth": 1.3, "clip": true},
    "encoding": {"x": {"field": "x", "type": "quantitative", "scale": {"domain": [-0.012, 0.2165], "nice": false, "zero": false}, "axis": null}, "y": {"field": "y", "type": "quantitative", "scale": {"domain": [0.0505, 0.1037], "nice": false, "zero": false}, "axis": null}}},
   {"data": {"name": "predicted"}, "transform": [{"filter": "datum.plot=='b' && datum.row=='y1'"}], "mark": {"type": "rule", "color": "#2a2acc", "strokeWidth": 1.3, "strokeDash": [14, 7], "clip": true}, "encoding": {"y": {"field": "value", "type": "quantitative", "axis": null}}},
   {"data": {"name": "settings"}, "transform": [{"filter": "datum.plot=='b' && datum.factor=='A'"}], "mark": {"type": "rule", "color": "#d81e1e", "strokeWidth": 1.5, "clip": true}, "encoding": {"x": {"field": "level", "type": "quantitative", "axis": null}}}
 ]},
 {"width": 150, "height": 133, "view": {"stroke": "#c2c2c2", "strokeWidth": 1.5}, "layer": [
   {"data": {"name": "curves"}, "transform": [{"filter": "datum.plot=='b' && datum.row=='y1' && datum.factor=='B'"}], "mark": {"type": "line", "color": "#8a8a8a", "strokeWidth": 1.3, "clip": true},
    "encoding": {"x": {"field": "x", "type": "quantitative", "scale": {"domain": [3.791, 8.269], "nice": false, "zero": false}, "axis": null}, "y": {"field": "y", "type": "quantitative", "scale": {"domain": [0.0505, 0.1037], "nice": false, "zero": false}, "axis": null}}},
   {"data": {"name": "predicted"}, "transform": [{"filter": "datum.plot=='b' && datum.row=='y1'"}], "mark": {"type": "rule", "color": "#2a2acc", "strokeWidth": 1.3, "strokeDash": [14, 7], "clip": true}, "encoding": {"y": {"field": "value", "type": "quantitative", "axis": null}}},
   {"data": {"name": "settings"}, "transform": [{"filter": "datum.plot=='b' && datum.factor=='B'"}], "mark": {"type": "rule", "color": "#e03030", "strokeWidth": 1.5, "clip": true}, "encoding": {"x": {"field": "level", "type": "quantitative", "axis": null}}}
 ]},
 {"width": 140, "height": 133, "view": {"stroke": "#c2c2c2", "strokeWidth": 1.5}, "layer": [
   {"data": {"name": "curves"}, "transform": [{"filter": "datum.plot=='b' && datum.row=='y1' && datum.factor=='C'"}], "mark": {"type": "line", "color": "#8a8a8a", "strokeWidth": 1.3, "clip": true},
    "encoding": {"x": {"field": "x", "type": "quantitative", "scale": {"domain": [197.91, 239.7], "nice": false, "zero": false}, "axis": null}, "y": {"field": "y", "type": "quantitative", "scale": {"domain": [0.0505, 0.1037], "nice": false, "zero": false}, "axis": null}}},
   {"data": {"name": "predicted"}, "transform": [{"filter": "datum.plot=='b' && datum.row=='y1'"}], "mark": {"type": "rule", "color": "#2a2acc", "strokeWidth": 1.3, "strokeDash": [14, 7], "clip": true}, "encoding": {"y": {"field": "value", "type": "quantitative", "axis": null}}},
   {"data": {"name": "settings"}, "transform": [{"filter": "datum.plot=='b' && datum.factor=='C'"}], "mark": {"type": "rule", "color": "#e65a5a", "strokeWidth": 2, "clip": true}, "encoding": {"x": {"field": "level", "type": "quantitative", "axis": null}}}
 ]},
 {"width": 99, "height": 133, "view": {"stroke": null}, "data": {"name": "rowlabels"}, "transform": [{"filter": "datum.plot=='b' && datum.row=='y2'"}],
  "mark": {"type": "text", "fontSize": 12, "baseline": "middle", "dx": -2},
  "encoding": {"y": {"field": "slot", "type": "ordinal", "scale": {"type": "point", "domain": ["p1","name","goal","pred","desir","p2"], "padding": 0.94, "align": 0.514}, "axis": null}, "text": {"field": "text", "type": "nominal"},
   "color": {"field": "slot", "type": "nominal", "legend": null, "scale": {"domain": ["name","goal","pred","desir"], "range": ["#1a1a1a","#1a1a1a","#3434ee","#1a1a1a"]}}}},
 {"width": 152, "height": 133, "view": {"stroke": "#c2c2c2", "strokeWidth": 1.5}, "layer": [
   {"data": {"name": "curves"}, "transform": [{"filter": "datum.plot=='b' && datum.row=='y2' && datum.factor=='A'"}], "mark": {"type": "line", "color": "#8a8a8a", "strokeWidth": 1.3, "clip": true},
    "encoding": {"x": {"field": "x", "type": "quantitative", "scale": {"domain": [-0.012, 0.2165], "nice": false, "zero": false}, "axis": null}, "y": {"field": "y", "type": "quantitative", "scale": {"domain": [-0.3624, 0.0366], "nice": false, "zero": false}, "axis": null}}},
   {"data": {"name": "predicted"}, "transform": [{"filter": "datum.plot=='b' && datum.row=='y2'"}], "mark": {"type": "rule", "color": "#6464e6", "strokeWidth": 1.3, "strokeDash": [14, 7], "clip": true}, "encoding": {"y": {"field": "value", "type": "quantitative", "axis": null}}},
   {"data": {"name": "settings"}, "transform": [{"filter": "datum.plot=='b' && datum.factor=='A'"}], "mark": {"type": "rule", "color": "#d81e1e", "strokeWidth": 1.5, "clip": true}, "encoding": {"x": {"field": "level", "type": "quantitative", "axis": null}}}
 ]},
 {"width": 150, "height": 133, "view": {"stroke": "#c2c2c2", "strokeWidth": 1.5}, "layer": [
   {"data": {"name": "curves"}, "transform": [{"filter": "datum.plot=='b' && datum.row=='y2' && datum.factor=='B'"}], "mark": {"type": "line", "color": "#8a8a8a", "strokeWidth": 1.3, "clip": true},
    "encoding": {"x": {"field": "x", "type": "quantitative", "scale": {"domain": [3.791, 8.269], "nice": false, "zero": false}, "axis": null}, "y": {"field": "y", "type": "quantitative", "scale": {"domain": [-0.3624, 0.0366], "nice": false, "zero": false}, "axis": null}}},
   {"data": {"name": "predicted"}, "transform": [{"filter": "datum.plot=='b' && datum.row=='y2'"}], "mark": {"type": "rule", "color": "#6464e6", "strokeWidth": 1.3, "strokeDash": [14, 7], "clip": true}, "encoding": {"y": {"field": "value", "type": "quantitative", "axis": null}}},
   {"data": {"name": "settings"}, "transform": [{"filter": "datum.plot=='b' && datum.factor=='B'"}], "mark": {"type": "rule", "color": "#e03030", "strokeWidth": 1.5, "clip": true}, "encoding": {"x": {"field": "level", "type": "quantitative", "axis": null}}}
 ]},
 {"width": 140, "height": 133, "view": {"stroke": "#c2c2c2", "strokeWidth": 1.5}, "layer": [
   {"data": {"name": "curves"}, "transform": [{"filter": "datum.plot=='b' && datum.row=='y2' && datum.factor=='C'"}], "mark": {"type": "line", "color": "#8a8a8a", "strokeWidth": 1.3, "clip": true},
    "encoding": {"x": {"field": "x", "type": "quantitative", "scale": {"domain": [197.91, 239.7], "nice": false, "zero": false}, "axis": null}, "y": {"field": "y", "type": "quantitative", "scale": {"domain": [-0.3624, 0.0366], "nice": false, "zero": false}, "axis": null}}},
   {"data": {"name": "predicted"}, "transform": [{"filter": "datum.plot=='b' && datum.row=='y2'"}], "mark": {"type": "rule", "color": "#6464e6", "strokeWidth": 1.3, "strokeDash": [14, 7], "clip": true}, "encoding": {"y": {"field": "value", "type": "quantitative", "axis": null}}},
   {"data": {"name": "settings"}, "transform": [{"filter": "datum.plot=='b' && datum.factor=='C'"}], "mark": {"type": "rule", "color": "#e65a5a", "strokeWidth": 2, "clip": true}, "encoding": {"x": {"field": "level", "type": "quantitative", "axis": null}}}
 ]}
]
}
]
}
